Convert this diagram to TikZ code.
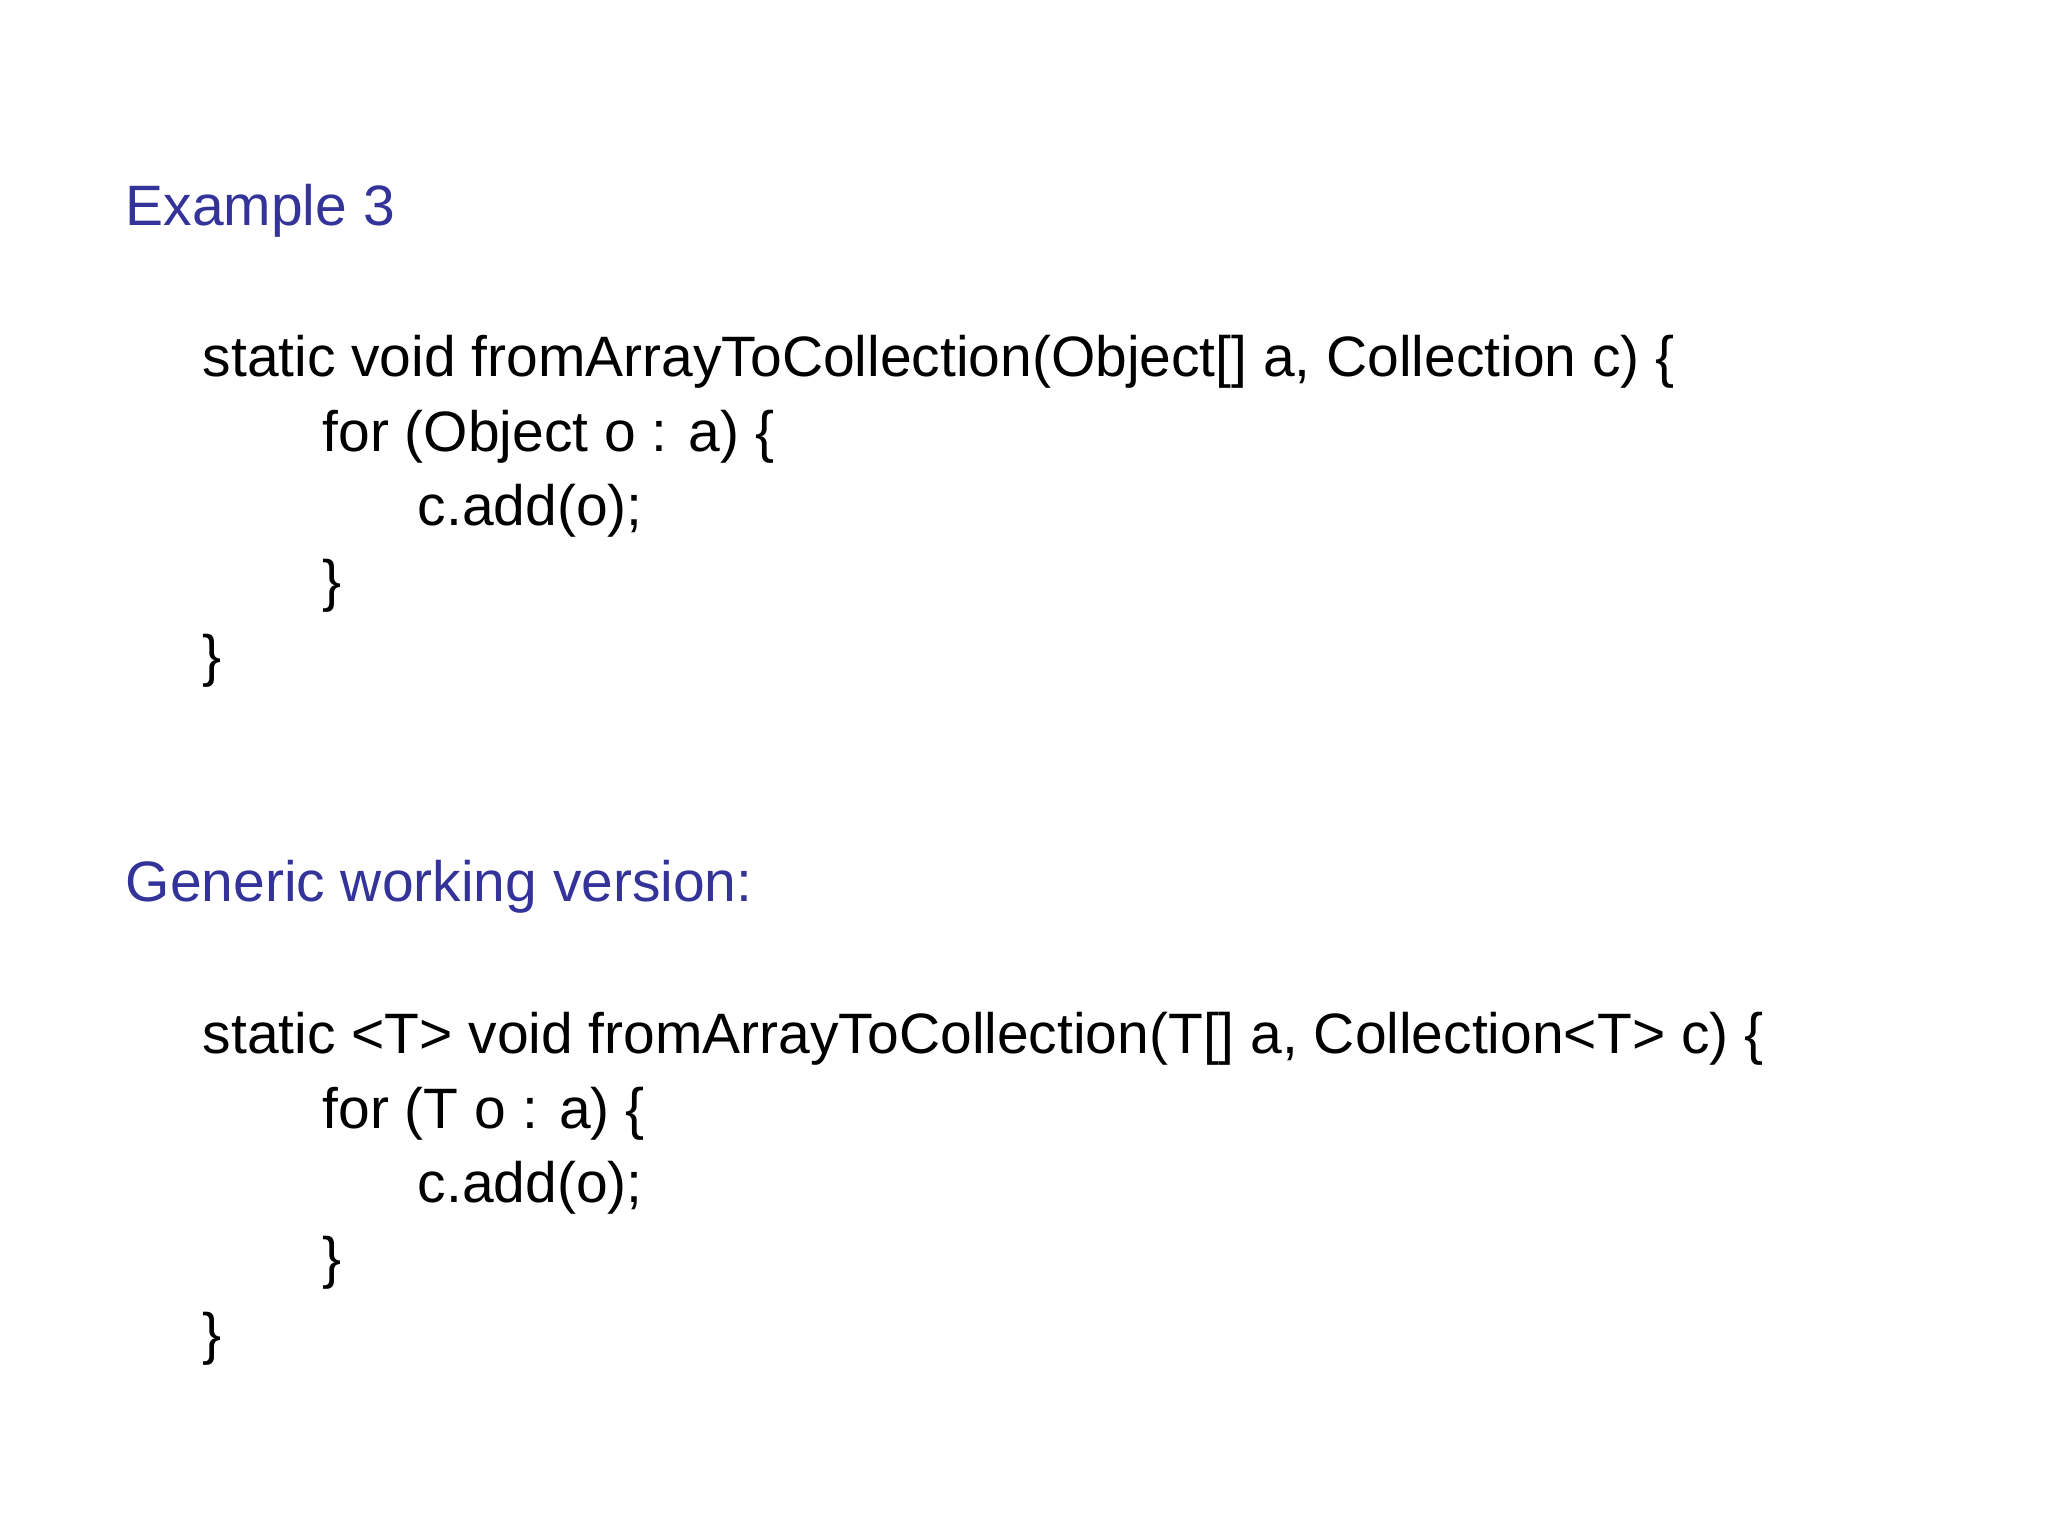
\documentclass[tikz,border=0pt]{standalone}
\usepackage{fontspec}
\setmainfont{Liberation Sans}
\definecolor{hd}{HTML}{333399}
\begin{document}
\begin{tikzpicture}[x=0.01cm,y=-0.01cm,
  t/.style={anchor=base west,inner sep=0pt,font=\fontsize{16.2pt}{19pt}\selectfont},
  h/.style={t,text=hd}]
\useasboundingbox (0,0) rectangle (2048,1536);
\node[h] (e3) at (125,225) {Example 3};
\node[t] (a1) at (202,376) {static void fromArrayToCollection(Object[] a, Collection c) \{};
\node[t] (a2) at (322,451) {for (Object o : a) \{};
\node[t] (a3) at (417,525) {c.add(o);};
\node[t] (a4) at (322,600) {\}};
\node[t] (a5) at (202,675) {\}};
\node[h] (g) at (125,901) {Generic working version:};
\node[t] (b1) at (202,1053) {static <T> void fromArrayToCollection(T[] a, Collection<T> c) \{};
\node[t] (b2) at (322,1128) {for (T o : a) \{};
\node[t] (b3) at (417,1202) {c.add(o);};
\node[t] (b4) at (322,1277) {\}};
\node[t] (b5) at (202,1353) {\}};
\end{tikzpicture}
\end{document}
